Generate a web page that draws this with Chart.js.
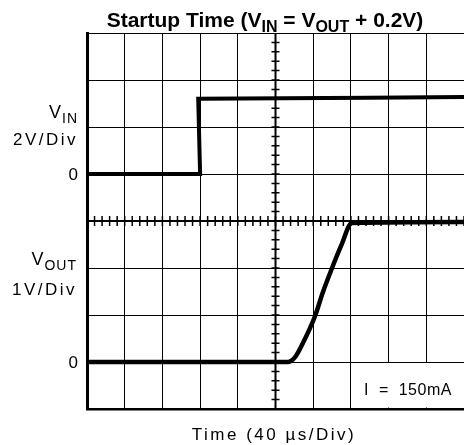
<!DOCTYPE html>
<html>
<head>
<meta charset="utf-8">
<script src="https://cdn.jsdelivr.net/npm/chart.js@4.4.1/dist/chart.umd.min.js"></script>
<style>
  html, body { margin: 0; padding: 0; background: #fff; }
  #wrap { width: 464px; height: 445px; }
</style>
</head>
<body>
<div id="wrap"><canvas id="chart" width="464" height="445"></canvas></div>
<script>
// time in microseconds, voltages in volts
const vinTime   = [0, 120, 118, 300, 400];
const vinVolts  = [0, 0, 3.2, 3.24, 3.28];
const voutTime  = [0, 213, 221, 229, 242, 250, 260, 270, 281, 400];
const voutVolts = [0, 0, 0.11, 0.40, 0.98, 1.47, 2.0, 2.49, 2.96, 2.98];

// scope settings: 40us/div, VIN 2V/div, VOUT 1V/div
const timeRange = [0, 400];
const vinRange  = [-10, 6];
const voutRange = [-1, 7];

const titleParts = [{ t: 'Startup Time (V' }, { t: 'IN', sub: true }, { t: ' = V' }, { t: 'OUT', sub: true }, { t: ' + 0.2V)' }];
const vinName   = [{ t: 'V' }, { t: 'IN', sub: true }];
const vinScale  = '2V/Div';
const voutName  = [{ t: 'V' }, { t: 'OUT', sub: true }];
const voutScale = '1V/Div';
const zeroLabel = '0';
const loadLabel = 'I  =  150mA';
const timeLabel = 'Time (40 \u00b5s/Div)';

const LABEL_FONT = '"Liberation Sans", Arial, sans-serif';

function toPoints(xs, ys) {
    return xs.map((x, i) => ({ x: x, y: ys[i] }));
}

// draws a run of text with subscripts
function drawRich(ctx, parts, x, y, align, size, weight, spacing) {
    const subSize = Math.round(size * 0.78);
    const fontOf = (p) => `${weight} ${p.sub ? subSize : size}px ${LABEL_FONT}`;
    ctx.letterSpacing = spacing + 'px';
    let total = 0;
    parts.forEach(p => { ctx.font = fontOf(p); total += ctx.measureText(p.t).width; });
    let cx = x;
    if (align === 'center') cx = x - total / 2;
    if (align === 'right') cx = x - total;
    ctx.textAlign = 'left';
    ctx.textBaseline = 'alphabetic';
    parts.forEach(p => {
        ctx.font = fontOf(p);
        ctx.fillText(p.t, cx, p.sub ? y + Math.round(size * 0.25) : y);
        cx += ctx.measureText(p.t).width;
    });
    ctx.letterSpacing = '0px';
}

const scopePlugin = {
    id: 'scope',
    beforeDatasetsDraw(chart) {
        const ctx = chart.ctx;
        const xs = chart.scales.x;
        const ys = chart.scales.y;
        const area = chart.chartArea;
        const midX = xs.getPixelForValue(200);
        const midY = ys.getPixelForValue(-2);

        ctx.save();
        // white box behind the load current note
        const boxL = xs.getPixelForValue(280);
        const boxT = ys.getPixelForValue(-8);
        ctx.fillStyle = '#fff';
        ctx.fillRect(boxL + 1, boxT + 1, area.right - boxL, area.bottom - boxT - 2.5);

        // centre cross with minor divisions
        ctx.strokeStyle = '#000';
        ctx.lineWidth = 2;
        ctx.beginPath();
        ctx.moveTo(midX, area.top);
        ctx.lineTo(midX, area.bottom);
        ctx.moveTo(area.left, midY);
        ctx.lineTo(area.right, midY);
        ctx.stroke();

        ctx.lineWidth = 1.5;
        ctx.beginPath();
        for (let t = 0; t <= 400; t += 8) {
            const px = xs.getPixelForValue(t);
            ctx.moveTo(px, midY - 5);
            ctx.lineTo(px, midY + 5);
        }
        for (let v = -10; v <= 6; v += 0.4) {
            const py = ys.getPixelForValue(v);
            ctx.moveTo(midX - 4, py);
            ctx.lineTo(midX + 4, py);
        }
        ctx.stroke();
        ctx.restore();
    },
    afterDraw(chart) {
        const ctx = chart.ctx;
        const ys = chart.scales.y;
        const yo = chart.scales.yOut;
        ctx.save();
        ctx.fillStyle = '#000';

        drawRich(ctx, titleParts, 265, 27, 'center', 21, 'bold', 0);

        drawRich(ctx, vinName, 78, 118, 'right', 18, 'normal', 1);
        drawRich(ctx, [{ t: vinScale }], 78, 145, 'right', 17, 'normal', 2.5);
        drawRich(ctx, [{ t: zeroLabel }], 78, ys.getPixelForValue(0) + 6, 'right', 17, 'normal', 0);

        drawRich(ctx, voutName, 77, 265, 'right', 18, 'normal', 1);
        drawRich(ctx, [{ t: voutScale }], 77, 295, 'right', 17, 'normal', 2.5);
        drawRich(ctx, [{ t: zeroLabel }], 78, yo.getPixelForValue(0) + 6, 'right', 17, 'normal', 0);

        drawRich(ctx, [{ t: loadLabel }], 408, 395, 'center', 16, 'normal', 0.5);
        drawRich(ctx, [{ t: timeLabel }], 274, 440, 'center', 17, 'normal', 2.5);
        ctx.restore();
    }
};

new Chart(document.getElementById('chart'), {
    type: 'line',
    data: {
        datasets: [
            {
                label: 'VIN',
                data: toPoints(vinTime, vinVolts),
                yAxisID: 'y',
                borderColor: '#000',
                borderWidth: 4,
                pointRadius: 0,
                tension: 0,
                fill: false
            },
            {
                label: 'VOUT',
                data: toPoints(voutTime, voutVolts),
                yAxisID: 'yOut',
                borderColor: '#000',
                borderWidth: 4.5,
                pointRadius: 0,
                cubicInterpolationMode: 'monotone',
                fill: false
            }
        ]
    },
    options: {
        responsive: false,
        animation: false,
        layout: { padding: { left: 87, top: 33, right: 0, bottom: 36 } },
        plugins: {
            legend: { display: false },
            tooltip: { enabled: false },
            title: { display: false }
        },
        scales: {
            x: {
                type: 'linear',
                min: timeRange[0],
                max: timeRange[1],
                ticks: { display: false, stepSize: 40 },
                grid: { color: '#000', lineWidth: 1, drawTicks: false },
                border: { display: true, color: '#000', width: 2.5 }
            },
            y: {
                type: 'linear',
                min: vinRange[0],
                max: vinRange[1],
                ticks: { display: false, stepSize: 2 },
                grid: { color: '#000', lineWidth: 1, drawTicks: false },
                border: { display: true, color: '#000', width: 3 }
            },
            yOut: {
                type: 'linear',
                display: false,
                min: voutRange[0],
                max: voutRange[1]
            }
        }
    },
    plugins: [scopePlugin]
});
</script>
</body>
</html>
